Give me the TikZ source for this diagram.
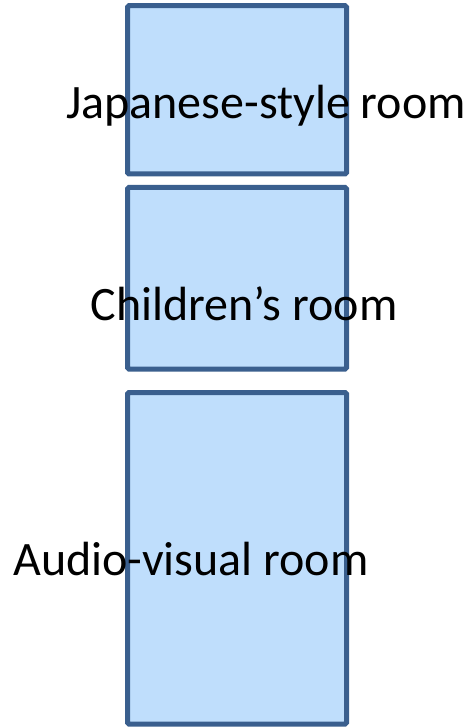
\documentclass[tikz,border=0pt]{standalone}
\usepackage{fontspec}
\setmainfont{Carlito}
\usepackage{xcolor}
\usepackage{tikz}
\usetikzlibrary{positioning}

\definecolor{roomfill}{HTML}{BFDEFC}
\definecolor{roomline}{HTML}{3A5F8E}

\begin{document}
\begin{tikzpicture}[
  x=1pt, y=1pt,
  % Node styles
  room/.style={rectangle, rounded corners=1.5pt, draw=roomline, fill=roomfill, line width=5pt, inner sep=0pt, outer sep=0pt, minimum width=219pt},
  roomlabel/.style={inner sep=0pt, anchor=base, font=\fontsize{48}{50}\selectfont, text=black}
]
  \useasboundingbox (0,0) rectangle (475,-727);

  % Rooms
  \node[room, anchor=north west, minimum height=168.3pt] (japanese) at (127.5,-5.7) {};
  \node[room, below=13.5pt of japanese, minimum height=181.5pt] (children) {};
  \node[room, below=23.5pt of children, minimum height=331.5pt] (audio) {};

  % Labels
  \node[roomlabel] (japaneselabel) at (266,-118.3) {Japanese-style room};
  \node[roomlabel] (childrenlabel) at (244,-320.7) {Children’s room};
  \node[roomlabel] (audiolabel) at (191,-575) {Audio-visual room};

\end{tikzpicture}
\end{document}
